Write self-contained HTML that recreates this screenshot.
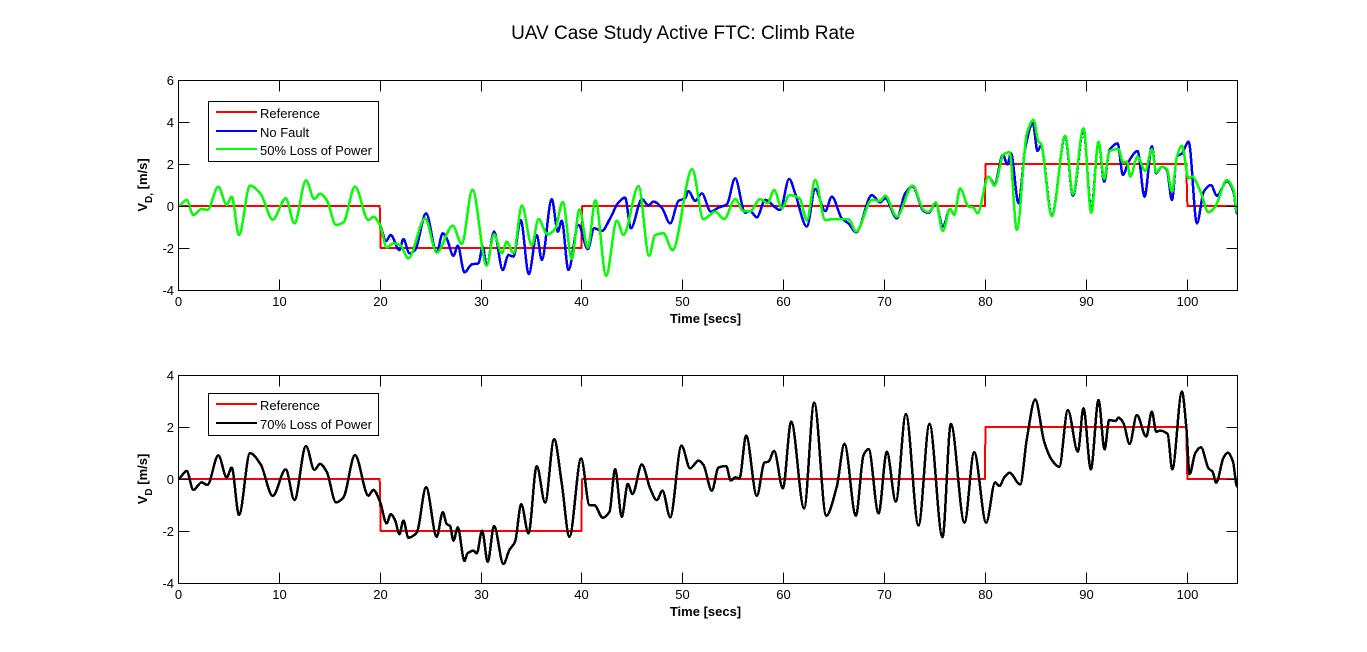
<!DOCTYPE html>
<html>
<head>
<meta charset="utf-8">
<title>UAV Case Study Active FTC: Climb Rate</title>
<style>
html,body{margin:0;padding:0;background:#fff;width:1367px;height:652px;overflow:hidden}
svg{display:block}
text{font-family:"Liberation Sans",Arial,sans-serif;fill:#000}
</style>
</head>
<body>
<svg id="figure" xmlns="http://www.w3.org/2000/svg" width="1367" height="652" viewBox="0 0 1367 652">
  <rect x="0" y="0" width="1367" height="652" fill="#fff"/>
  <text x="683" y="39" font-size="19" text-anchor="middle">UAV Case Study Active FTC: Climb Rate</text>
  <g id="top-plot"></g>
  <g id="bottom-plot"></g>
  <text x="705.5" y="323" font-size="13" font-weight="bold" text-anchor="middle">Time [secs]</text>
  <text x="705.5" y="616" font-size="13" font-weight="bold" text-anchor="middle">Time [secs]</text>
  <text transform="translate(147,185) rotate(-90)" font-size="13" font-weight="bold" text-anchor="middle">V<tspan font-size="10" dy="5">D,</tspan><tspan dy="-5"> [m/s]</tspan></text>
  <text transform="translate(147,479) rotate(-90)" font-size="13" font-weight="bold" text-anchor="middle">V<tspan font-size="10" dy="5">D</tspan><tspan dy="-5"> [m/s]</tspan></text>
</svg>
<script>
const xTicks = [0,10,20,30,40,50,60,70,80,90,100];
const topYTicks = [-4,-2,0,2,4,6];
const bottomYTicks = [-4,-2,0,2,4];

const referenceTime = [0,20,20.05,20.1,40,40.02,40.08,80,80.02,80.08,100,100.02,100.08,105];
const referenceTopValue = [0,0,-1,-2,-2,-1,0,0,1,2,2,1,0,0];
const referenceBottomValue = [0,0,-1,-2,-2,-1,0,0,1,2,2,1,0,0];

const noFaultTime = [0,.86,1.52,2.35,2.91,4,4.83,5.32,6.05,7.14,8.2,9.39,10.68,11.54,12.69,13.52,14.08,14.74,15.67,16.4,17.55,18.88,19.37,20.03,20.63,21.09,21.95,22.35,22.94,23.5,24.6,25.65,26.25,26.64,27.31,27.74,28.4,29.12,29.79,30.21,30.61,31.34,32.2,32.76,33.26,33.98,34.78,35.57,36.07,37.06,37.66,38.05,38.71,39.7,40.63,41.26,42.02,42.85,43.67,44.33,44.9,46,46.65,47.14,47.97,48.8,49.62,50.28,50.61,51.28,51.94,52.83,53.59,54.42,55.24,56.23,56.73,57.39,58.22,59.7,60.6,61.19,62.35,63.18,64.17,64.83,65.82,66.48,67.24,68.8,69.62,70.12,71.27,72.1,72.83,73.92,74.41,75.14,75.83,76.56,76.96,77.55,78.38,78.88,79.27,80.36,80.96,81.78,82.25,82.58,83.34,84,84.76,85.22,85.55,86.64,87.97,88.73,89.78,90.55,91.27,91.83,92.36,93.16,93.69,94.25,95.14,95.83,96.56,96.99,97.55,98.05,98.55,99.04,99.54,100.2,101.03,101.7,102.41,103.01,104,104.66,105];
const noFaultValue = [0,.29,-.43,-.14,-.19,.92,.05,.44,-1.38,.97,.57,-.65,.37,-.83,1.22,.33,.59,.29,-.9,-.78,.92,-.67,-.51,-.9,-1.67,-1.38,-2.1,-1.57,-2.25,-2.1,-.35,-2.22,-1.3,-1.54,-2.37,-1.89,-3.16,-2.78,-2.73,-1.94,-2.84,-1.22,-3.05,-2.33,-2.41,-.67,-3.24,-1.38,-2.57,.32,-1.22,-.7,-3.05,-.9,-2.05,-1.06,-1.19,-.59,.17,.4,-1.06,.33,.02,.21,-.08,-.83,.24,.37,.71,.24,.6,-.27,-.08,.08,1.32,-.32,-.24,-.54,.29,-.19,1.29,.6,-.98,.81,-.24,.44,-.59,-.83,-1.25,.52,.17,.37,-.59,.6,.92,-.24,-.33,.13,-.98,-.14,-.43,.84,-.03,-.08,-.35,1.4,1.03,2.43,1.98,2.51,.13,2.75,3.94,2.62,2.87,-.43,3.3,.49,3.62,-.19,3.06,1.16,2.67,2.98,1.48,2.11,2.62,.44,2.84,1.56,1.87,1.71,.29,2.35,2.5,3.06,-.83,.68,1,.49,1.19,.68,-.35];

const loss50Time = [0,.86,1.52,2.35,2.91,4,4.83,5.32,6.05,7.14,8.2,9.39,10.68,11.54,12.69,13.52,14.08,14.74,15.67,16.4,17.55,18.88,19.37,20.03,20.69,21.36,22.02,22.84,24.5,25.65,27.24,28.13,29.19,30.61,31.34,32.1,32.6,33.26,34.1,35.08,35.74,36.63,37.39,38.15,39.04,39.8,40.63,41.39,42.45,43.51,44.17,45.66,46.71,47.31,48.13,49.03,50.98,52.1,53.26,54.15,55.24,56.07,56.73,57.72,58.45,59.11,59.87,60.63,61.62,62.35,63.18,64.17,65,66.48,67.24,68.8,69.62,70.12,71.27,72.83,73.92,74.41,75.14,75.83,76.56,76.96,77.55,78.38,78.88,79.27,80.36,80.96,81.85,82.45,83.17,84.17,84.83,85.32,85.55,86.64,87.97,88.73,89.78,90.55,91.27,91.83,92.36,93.26,93.69,94.08,94.41,95.14,95.9,96.56,96.99,97.55,98.05,98.55,99.04,99.54,100.2,100.53,101.36,102.18,102.84,104,104.66,105];
const loss50Value = [0,.29,-.43,-.14,-.19,.92,.05,.44,-1.38,.97,.57,-.65,.37,-.83,1.22,.33,.59,.29,-.9,-.78,.92,-.67,-.51,-.9,-1.98,-1.78,-1.86,-2.49,-.59,-2.22,-.94,-1.81,.78,-2.84,-1.35,-2.25,-1.7,-2.25,.02,-1.89,-.62,-1.35,-1.1,.19,-2.52,-.16,-1.98,.27,-3.32,-.7,-1.38,.95,-2.37,-1.38,-1.3,-2.1,1.75,-.63,-.27,-.62,.33,-.24,-.24,.33,.13,.76,-.11,.52,.37,-.67,1.24,-.67,-.62,-.63,-1.22,.29,.24,.49,-.51,.97,-.19,-.3,.17,-1.19,-.14,-.43,.84,-.03,-.08,-.35,1.4,.97,2.46,2.56,-1.14,3.46,4.1,3.06,2.98,-.48,3.35,.56,3.7,-.32,3.06,1.29,2.62,2.71,2.08,2.11,1.4,2.35,1.67,2.71,1.6,1.87,1.76,.68,2.35,2.87,1.32,1.4,.71,-.3,-.03,1.24,.76,-.27];

const loss70Time = [0,.86,1.52,2.35,2.91,4,4.83,5.32,6.05,7.14,8.2,9.39,10.68,11.54,12.69,13.52,14.08,14.74,15.67,16.4,17.55,18.88,19.37,20.03,20.69,21.09,21.52,21.95,22.35,22.84,23.67,24.6,25.65,26.25,26.64,26.98,27.31,27.74,28.4,28.7,29.29,29.62,30.15,30.71,31.34,32.26,32.86,33.42,34.03,34.75,35.57,36.4,37.29,38.05,38.81,39.97,40.8,41.26,42.12,42.78,43.34,44,44.6,45.06,45.99,46.81,47.47,48.04,48.8,49.92,50.78,51.61,52.1,52.93,53.59,54.35,54.81,55.24,55.67,56.33,57.39,58.15,58.55,59.11,59.97,60.8,62.08,63.08,64.27,65.32,66.08,67.21,67.97,68.47,69.46,70.28,71.17,72.17,73.42,74.51,75.8,76.63,77.98,78.94,80.13,81.02,81.45,81.92,82.45,83.5,84.17,84.99,85.88,86.64,87.37,88.23,89.22,89.78,90.51,91.27,91.87,92.33,92.93,93.26,93.75,94.35,95.07,96,96.56,96.99,97.39,98.12,98.58,99.54,99.97,100.3,100.86,101.42,102.18,102.58,102.94,103.67,104.1,104.6,105];
const loss70Value = [0,.31,-.42,-.13,-.23,.91,.06,.44,-1.38,.99,.56,-.65,.37,-.81,1.27,.35,.58,.28,-.9,-.71,.92,-.64,-.42,-.87,-1.71,-1.35,-1.58,-2.12,-1.6,-2.26,-2.06,-.32,-2.22,-1.28,-1.73,-1.81,-2.37,-1.86,-3.15,-2.86,-2.76,-2.86,-1.99,-3.18,-1.81,-3.27,-2.73,-2.41,-.97,-2.09,.5,-.91,1.53,-.17,-2.22,.79,-1,-1,-1.49,-1.26,.38,-1.45,-.19,-.58,.56,-.36,-.81,-.45,-1.47,1.28,.41,.71,.54,-.45,.44,.5,-.06,.06,.03,1.67,-.65,.63,.67,1.08,-.36,2.21,-1.13,2.94,-1.41,-.29,1.35,-1.41,.92,1.15,-1.32,1.05,-.87,2.5,-1.79,2.12,-2.24,2.12,-1.68,1.03,-1.68,-.13,-.27,.06,.24,-.21,1.56,3.06,1.44,.73,.47,2.65,1.05,2.72,.37,3.04,1.14,2.27,2.23,2.36,2.14,1.35,2.46,1.63,2.59,1.82,1.86,1.73,.37,3.36,2.01,.19,.99,1.22,.41,.28,-.14,.83,1.01,.67,-.29];

const topLegendLabels = ["Reference","No Fault","50% Loss of Power"];
const bottomLegendLabels = ["Reference","70% Loss of Power"];

const NS = "http://www.w3.org/2000/svg";
const X_LEFT = 178, X_RIGHT = 1237, X_MAX = 105;

function xScale(t){ return X_LEFT + t * (X_RIGHT - X_LEFT) / X_MAX; }
function topY(v){ return 206 - v * 21; }
function bottomY(v){ return 479 - v * 26; }

// Monotone cubic through the knots: extrema stay on the knots.
function smoothPath(ts, vs, yFn){
  const xs = ts.map(xScale), ys = vs.map(yFn), n = xs.length, m = [];
  for(let i = 0; i < n; i++){
    if(i === 0 || i === n - 1){ m.push(0); continue; }
    const d0 = (ys[i] - ys[i-1]) / (xs[i] - xs[i-1]);
    const d1 = (ys[i+1] - ys[i]) / (xs[i+1] - xs[i]);
    m.push(d0 * d1 <= 0 ? 0 : 2 * d0 * d1 / (d0 + d1));
  }
  let d = "M" + xs[0].toFixed(2) + " " + ys[0].toFixed(2);
  for(let i = 0; i < n - 1; i++){
    const h = (xs[i+1] - xs[i]) / 3;
    d += "C" + (xs[i]+h).toFixed(2) + " " + (ys[i]+m[i]*h).toFixed(2) + " " + (xs[i+1]-h).toFixed(2) + " " + (ys[i+1]-m[i+1]*h).toFixed(2) + " " + xs[i+1].toFixed(2) + " " + ys[i+1].toFixed(2);
  }
  return d;
}
function stepPath(ts, vs, yFn){
  return ts.map(function(t, i){ return (i ? "L" : "M") + xScale(t).toFixed(2) + " " + yFn(vs[i]).toFixed(2); }).join("");
}

function drawSeries(parent, d, color, width, name){
  const p = document.createElementNS(NS, "path");
  p.setAttribute("d", d);
  p.setAttribute("fill", "none");
  p.setAttribute("stroke", color);
  p.setAttribute("stroke-width", width);
  p.setAttribute("stroke-linejoin", "round");
  p.setAttribute("shape-rendering", "crispEdges");
  
  
  parent.appendChild(p);
}

function drawAxes(parent, yFn, yTicks, top, bottom){
  xTicks.forEach(function(t){
    const x = Math.round(xScale(t)) + 0.5;
    const tick = document.createElementNS(NS, "path");
    tick.setAttribute("d", "M" + x + " " + (top + .5) + "V" + (top + 11.5) + "M" + x + " " + (bottom + .5) + "V" + (bottom - 10.5));
    tick.setAttribute("stroke", "#000");
    tick.setAttribute("fill", "none");
    
    
    parent.appendChild(tick);
    const label = document.createElementNS(NS, "text");
    label.setAttribute("x", x);
    label.setAttribute("y", bottom + 16);
    label.setAttribute("font-size", "13");
    label.setAttribute("text-anchor", "middle");
    label.textContent = t;
    
    
    parent.appendChild(label);
  });
  yTicks.forEach(function(v){
    const y = Math.round(yFn(v)) + 0.5;
    const tick = document.createElementNS(NS, "path");
    tick.setAttribute("d", "M" + (X_LEFT + .5) + " " + y + "H" + (X_LEFT + 11.5) + "M" + (X_RIGHT + .5) + " " + y + "H" + (X_RIGHT - 10.5));
    tick.setAttribute("stroke", "#000");
    tick.setAttribute("fill", "none");
    
    
    parent.appendChild(tick);
    const label = document.createElementNS(NS, "text");
    label.setAttribute("x", X_LEFT - 4);
    label.setAttribute("y", y + 4.5);
    label.setAttribute("font-size", "13");
    label.setAttribute("text-anchor", "end");
    label.textContent = v;
    
    
    parent.appendChild(label);
  });
  const frame = document.createElementNS(NS, "rect");
  frame.setAttribute("x", X_LEFT + .5);
  frame.setAttribute("y", top + .5);
  frame.setAttribute("width", X_RIGHT - X_LEFT);
  frame.setAttribute("height", bottom - top);
  frame.setAttribute("fill", "none");
  frame.setAttribute("stroke", "#000");
  
  
  parent.appendChild(frame);
}

function drawLegend(parent, labels, colors, boxTop, boxHeight){
  const g = document.createElementNS(NS, "g");
  
  
  const box = document.createElementNS(NS, "rect");
  box.setAttribute("x", "208.5");
  box.setAttribute("y", boxTop + .5);
  box.setAttribute("width", "170");
  box.setAttribute("height", boxHeight);
  box.setAttribute("fill", "#fff");
  box.setAttribute("stroke", "#000");
  
  
  g.appendChild(box);
  labels.forEach(function(text, i){
    const y = Math.round(boxTop + 10 + i * 18.5);
    const line = document.createElementNS(NS, "rect");
    line.setAttribute("x", "216");
    line.setAttribute("y", y);
    line.setAttribute("width", "41");
    line.setAttribute("height", "2");
    line.setAttribute("fill", colors[i]);
    
    
    g.appendChild(line);
    const label = document.createElementNS(NS, "text");
    label.setAttribute("x", "260");
    label.setAttribute("y", y + 7);
    label.setAttribute("font-size", "13");
    label.textContent = text;
    
    
    g.appendChild(label);
  });
  parent.appendChild(g);
}

const topPlot = document.getElementById("top-plot");
const bottomPlot = document.getElementById("bottom-plot");

drawSeries(topPlot, stepPath(referenceTime, referenceTopValue, topY), "#ff0000", 2, "reference-line-top");
drawSeries(topPlot, smoothPath(noFaultTime, noFaultValue, topY), "#0000ff", 2.5, "no-fault-line");
drawSeries(topPlot, smoothPath(loss50Time, loss50Value, topY), "#00ff00", 2.5, "loss-50-line");
drawAxes(topPlot, topY, topYTicks, 80, 290);
drawLegend(topPlot, topLegendLabels, ["#ff0000","#0000ff","#00ff00"], 101, 60);

drawSeries(bottomPlot, stepPath(referenceTime, referenceBottomValue, bottomY), "#ff0000", 2, "reference-line-bottom");
drawSeries(bottomPlot, smoothPath(loss70Time, loss70Value, bottomY), "#000000", 2.5, "loss-70-line");
drawAxes(bottomPlot, bottomY, bottomYTicks, 375, 583);
drawLegend(bottomPlot, bottomLegendLabels, ["#ff0000","#000000"], 393, 42);
</script>
</body>
</html>
